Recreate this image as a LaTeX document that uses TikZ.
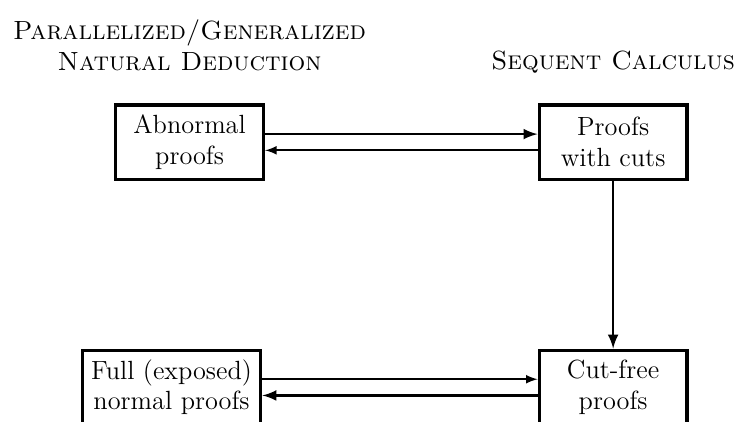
\documentclass[tikz,border=0pt]{standalone}
\usepackage{amsmath,amssymb}
\usepackage{tikz}
\usetikzlibrary{calc}
\newcommand\arrowshift{.13}

\begin{document}
\begin{tikzpicture}[
    proofbox/.style={draw, line width=1.5pt, align=center, font=\large, inner sep=4pt, minimum width=2.37cm, minimum height=1.19cm},
    heading/.style={align=center, font=\large\scshape},
    fatarrow/.style={-latex, line width=1.2pt},
    thinarrow/.style={-latex, line width=.8pt}]
            \useasboundingbox (0,0) rectangle (11.8,-6.75);
            \node[heading] (ND) at (3.04,-0.73) {Parallelized/Generalized\\Natural Deduction};
            \node[heading] (SC) at (9.83,-0.99) {Sequent Calculus};
            \node[proofbox] (AB) at (3.04,-2.28) {Abnormal\\proofs};
            \node[proofbox] (PC) at (9.83,-2.28) {Proofs\\with cuts};
            \node[proofbox] (FN) at (2.75,-6.21) {Full (exposed)\\normal proofs};
            \node[proofbox] (CF) at (9.83,-6.21) {Cut-free\\proofs};
            \draw[fatarrow] ($(AB.east)+(0,\arrowshift)$) -- ($(PC.west)+(0,\arrowshift)$);
            \draw[thinarrow] ($(PC.west)+(0,-\arrowshift)$) -- ($(AB.east)+(0,-\arrowshift)$);
            \draw[fatarrow] (PC) -- (CF);
            \draw[thinarrow] ($(FN.east)+(0,\arrowshift)$) -- ($(CF.west)+(0,\arrowshift)$);
            \draw[fatarrow] ($(CF.west)+(0,-\arrowshift)$) -- ($(FN.east)+(0,-\arrowshift)$);
        \end{tikzpicture}
\end{document}
